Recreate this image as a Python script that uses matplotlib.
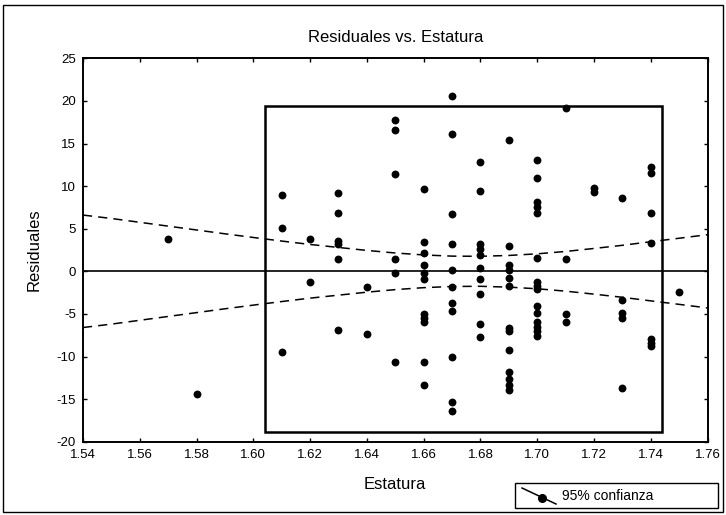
import matplotlib
matplotlib.use("Agg")
import matplotlib.pyplot as plt
from matplotlib.patches import Rectangle
from matplotlib.lines import Line2D

plt.rcParams['font.family'] = ['Liberation Sans', 'DejaVu Sans']
plt.rcParams['axes.unicode_minus'] = False

# ---- data ----
estatura_groups = [1.57, 1.58, 1.61, 1.62, 1.63, 1.64, 1.65, 1.66, 1.67,
                   1.68, 1.69, 1.70, 1.71, 1.72, 1.73, 1.74, 1.75]
residual_groups = [
    [3.84],
    [-14.4],
    [9.0, 5.05, -9.5],
    [3.76, -1.25],
    [9.23, 6.8, 3.56, 3.17, 1.49, -6.9],
    [-1.8, -7.4],
    [17.8, 16.6, 11.4, 1.49, -0.23, -10.7],
    [9.7, 3.44, 2.19, 0.74, -0.23, -0.86, -5.05, -5.5, -6.0, -10.7, -13.3],
    [20.6, 16.1, 6.7, 3.17, 0.15, -1.8, -3.76, -4.66, -10.0, -15.3, -16.4],
    [12.8, 9.4, 3.17, 2.58, 1.9, 0.35, -0.94, -2.7, -6.2, -7.7],
    [15.4, 2.97, 0.74, 0.1, -0.8, -1.7, -6.7, -7.0, -9.2, -11.8, -12.6, -13.3, -13.9],
    [13.1, 11.0, 8.1, 7.5, 6.9, 1.6, -1.2, -1.7, -2.1, -4.1, -4.85, -6.0, -6.5, -7.0, -7.6],
    [19.2, 1.49, -5.05, -6.0],
    [9.8, 9.35],
    [8.65, -3.4, -4.9, -5.5, -13.65],
    [12.2, 11.5, 6.9, 3.3, -8.0, -8.4, -8.8],
    [-2.4],
]

band_x = [1.54, 1.55, 1.56, 1.57, 1.58, 1.59, 1.60, 1.61, 1.62, 1.63, 1.64, 1.65,
          1.66, 1.67, 1.68, 1.69, 1.70, 1.71, 1.72, 1.73, 1.74, 1.75, 1.76]
band_upper = [6.6, 6.2, 5.75, 5.3, 4.85, 4.4, 3.97, 3.55, 3.15, 2.8, 2.45, 2.15,
              1.92, 1.78, 1.76, 1.86, 2.05, 2.33, 2.68, 3.05, 3.47, 3.88, 4.3]
band_lower = [-6.6, -6.2, -5.75, -5.3, -4.85, -4.4, -3.97, -3.55, -3.15, -2.8, -2.45, -2.15,
              -1.92, -1.78, -1.76, -1.86, -2.05, -2.33, -2.68, -3.05, -3.47, -3.88, -4.3]

box_x = [1.6042, 1.7439]
box_y = [-18.9, 19.4]

xticks = [1.54, 1.56, 1.58, 1.60, 1.62, 1.64, 1.66, 1.68, 1.70, 1.72, 1.74, 1.76]
xtick_labels = ["1.54", "1.56", "1.58", "1.60", "1.62", "1.64", "1.66", "1.68",
                "1.70", "1.72", "1.74", "1.76"]
yticks = [-20, -15, -10, -5, 0, 5, 10, 15, 20, 25]

x_pts = []
y_pts = []
for xv, ys in zip(estatura_groups, residual_groups):
    for yv in ys:
        x_pts.append(xv)
        y_pts.append(yv)

W, H = 726, 515
fig = plt.figure(figsize=(W / 100, H / 100), dpi=100)
ax = fig.add_axes([83 / W, 1 - 441.7 / H, (707.5 - 83) / W, (441.7 - 58.3) / H])

ax.set_xlim(1.54, 1.76)
ax.set_ylim(-20, 25)

# inner rectangle
ax.add_patch(Rectangle((box_x[0], box_y[0]), box_x[1] - box_x[0], box_y[1] - box_y[0],
                       fill=False, edgecolor='black', linewidth=1.8, zorder=2))
# zero line
ax.axhline(0, color='black', linewidth=1.2, zorder=2)
# confidence band
ax.plot(band_x, band_upper, color='black', linestyle=(0, (6, 4)), linewidth=1.1, zorder=2)
ax.plot(band_x, band_lower, color='black', linestyle=(0, (6, 4)), linewidth=1.1, zorder=2)
# points
ax.scatter(x_pts, y_pts, s=32, color='black', zorder=3, linewidths=0)

ax.set_xticks(xticks)
ax.set_xticklabels(xtick_labels)
ax.set_yticks(yticks)
ax.tick_params(direction='in', length=3, width=1, top=True, right=True, labelsize=9.5)
ax.tick_params(axis='x', pad=5)
ax.tick_params(axis='y', pad=5)
for sp in ax.spines.values():
    sp.set_linewidth(1.4)

ax.set_title("Residuales vs. Estatura", fontsize=12, pad=12)
ax.set_xlabel("Estatura", fontsize=12, labelpad=12)
ax.set_ylabel("Residuales", fontsize=12, labelpad=11)

# outer figure border
fig.patches.append(Rectangle((3 / W, 3 / H), (W - 6) / W, (H - 8) / H,
                             transform=fig.transFigure, fill=False,
                             edgecolor='black', linewidth=1.0))

# legend box
lx0, lx1, ly0, ly1 = 515, 718, 483, 508
fig.patches.append(Rectangle((lx0 / W, 1 - ly1 / H), (lx1 - lx0) / W, (ly1 - ly0) / H,
                             transform=fig.transFigure, fill=False,
                             edgecolor='black', linewidth=1.0))
fig.lines.append(Line2D([522 / W, 556 / W], [1 - 488 / H, 1 - 504 / H],
                        transform=fig.transFigure, color='black', linewidth=1.1))
fig.lines.append(Line2D([542 / W], [1 - 497.5 / H], transform=fig.transFigure,
                        color='black', marker='o', markersize=5.5, linestyle='none'))
fig.text(562 / W, 1 - 495.5 / H, "95% confianza", fontsize=10, va='center', ha='left')

fig.savefig("out.png", dpi=100)
